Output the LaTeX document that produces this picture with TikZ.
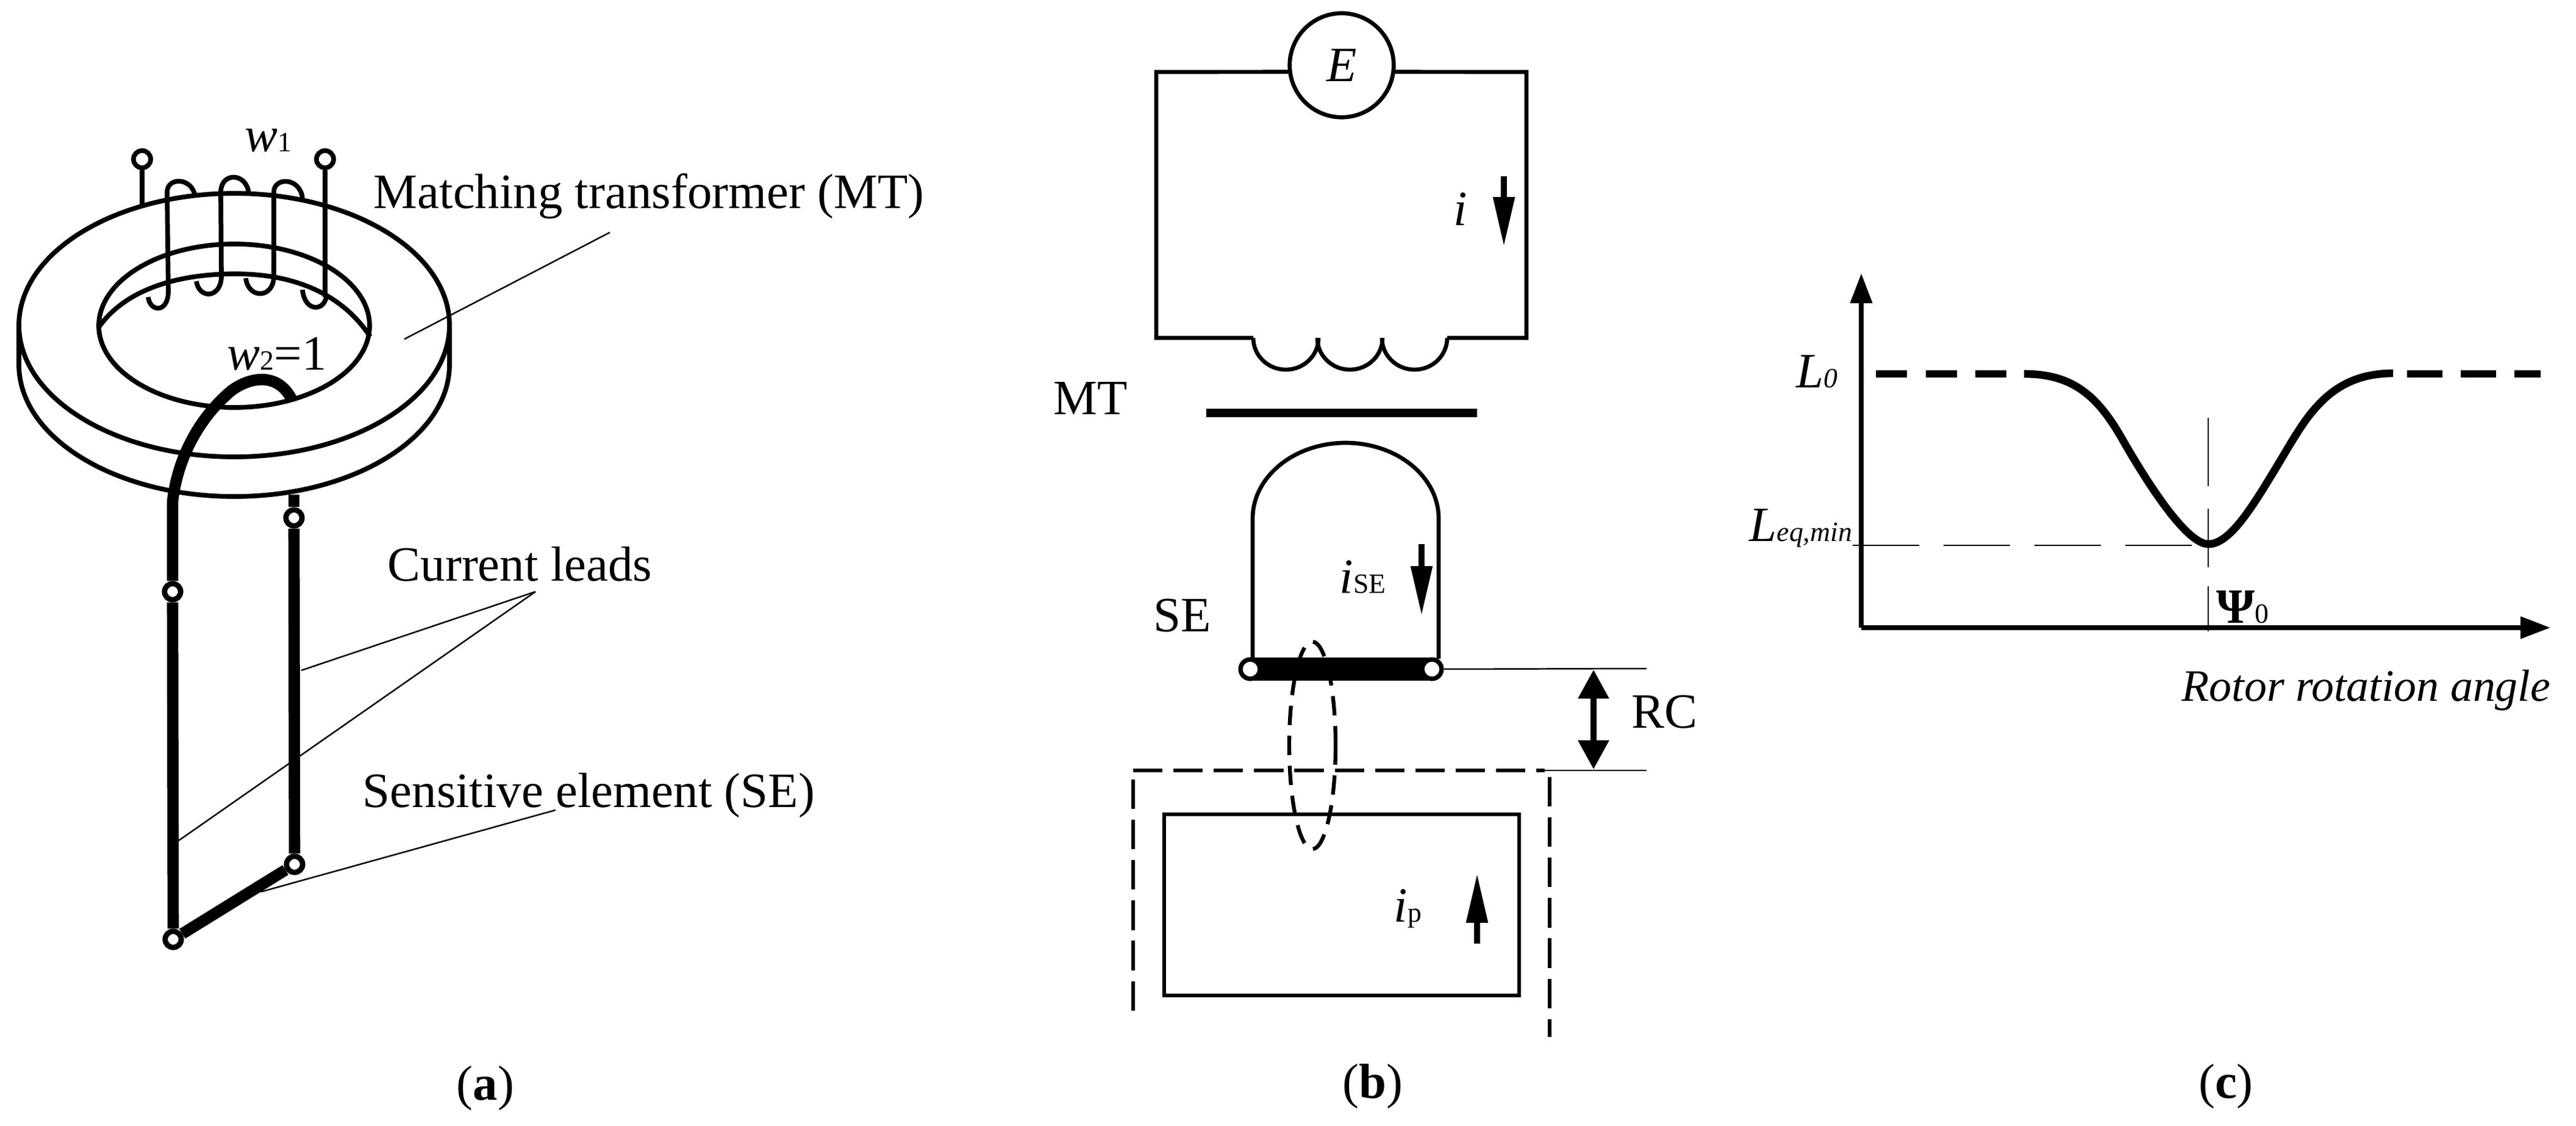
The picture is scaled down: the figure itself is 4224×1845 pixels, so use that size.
\documentclass[tikz,border=0pt]{standalone}
\usepackage{fontspec}
\setmainfont{Liberation Serif}
\usetikzlibrary{calc,arrows.meta}
\tikzset{
    lab/.style={anchor=base west, inner sep=0pt, font=\fontsize{23}{26}\selectfont},
    wire/.style={line width=2.2pt},
    loopwire/.style={line width=1.9pt},
    lead/.style={line width=5.3pt},
    leader/.style={line width=.7pt},
    hole/.style={circle, draw, fill=white, line width=2.5pt, minimum size=7.5pt, inner sep=0pt},
    pin/.style={circle, draw, fill=white, line width=2.2pt, minimum size=8pt, inner sep=0pt},
    joint/.style={circle, draw, fill=white, line width=2.1pt, minimum size=9pt, inner sep=0pt},
    shield/.style={line width=1.9pt, dash pattern=on 13.7pt off 5.1pt},
    current/.style={line width=2.6pt, -{Triangle[length=23pt,width=9.6pt]}},
    axis/.style={line width=2.1pt, -{Triangle[length=14pt,width=10pt]}},
    curve/.style={line width=3.6pt},
}
\newcommand{\low}[1]{{\fontsize{13}{14}\selectfont #1}}

\begin{document}
\begin{tikzpicture}[x=.01cm, y=-.01cm]
    \useasboundingbox (0,0) rectangle (4224,1845);

    % (a) transformer ring
    \draw [wire] (384,533) ellipse [x radius=353, y radius=216];
    \draw [wire] (384,534) ellipse [x radius=222, y radius=134];
    \draw [wire] (31,533) -- (31,598) arc [start angle=180, end angle=0, x radius=353, y radius=216] -- (737,533);
    \draw [wire] (163,535) .. controls (210,470) and (300,449) .. (386,449) .. controls (480,449) and (560,480) .. (607,552);

    % (a) primary winding
    \node [pin] (T1) at (233,261) {};
    \node [pin] (T2) at (533,261) {};
    \draw [wire] (T1) -- (233,336);
    \draw [wire] (T2) -- (533,487);
    \draw [wire] (243,487) .. controls (245,510) and (274,515) .. (276,480) -- (274,315) .. controls (274,290) and (315,290) .. (320,322);
    \draw [wire] (322,461) .. controls (326,490) and (361,490) .. (363,455) -- (362,315) .. controls (362,282) and (404,282) .. (408,317);
    \draw [wire] (403,456) .. controls (407,490) and (447,490) .. (449,455) -- (449,315) .. controls (449,290) and (492,290) .. (496,325);
    \draw [wire] (496,475) .. controls (499,510) and (530,512) .. (535,487);

    % (a) current leads
    \node [hole] (A) at (283,970) {};
    \node [hole] (B) at (482,849) {};
    \node [hole] (C) at (284,1540) {};
    \node [hole] (D) at (483,1417) {};
    \coordinate (Btop) at (482,811);
    \draw [lead] (A) -- (283,822) .. controls (290,760) and (320,690) .. (380,640) .. controls (410,618) and (455,610) .. (478,654);
    \draw [lead] (Btop) -- (B);
    \draw [lead] (B) -- (D);
    \draw [lead] (A) -- (C);
    \draw [lead] (C) -- (D);

    % (a) labels
    \node [lab] (w1) at (401,248) {\textit{w}\low{1}};
    \node [lab] (w2) at (372,606) {\textit{w}\low{2}=1};
    \node [lab] (MT) at (612,341) {Matching transformer (MT)};
    \node [lab] (CL) at (635,952) {Current leads};
    \node [lab] (SE) at (594,1323) {Sensitive element (SE)};
    \node [lab, anchor=base] (capa) at (796,1803) {(\textbf{a})};

    \coordinate (MTend) at (1000,381);
    \coordinate (CLend) at (878,970);
    \coordinate (SEend) at (911,1328);
    \draw [leader] (MTend) -- (663,556);
    \draw [leader] (CLend) -- (494,1099);
    \draw [leader] (CLend) -- (293,1378);
    \draw [leader] (SEend) -- (428,1462);

    % (b) primary circuit
    \node [circle, draw, loopwire, minimum size=48.5pt, inner sep=0pt, font=\fontsize{23}{26}\selectfont\itshape] (E) at (2200,107) {E};
    \coordinate (TL) at (1896,118);
    \coordinate (TR) at (2503,118);
    \coordinate (BL) at (1896,554);
    \coordinate (BR) at (2503,554);
    \draw [loopwire] (E.187.1) -- (TL) -- (BL) -- (2055,554);
    \draw [loopwire] (E.-7.1) -- (TR) -- (BR) -- (2373,554);
    \foreach \n in {2055, 2160, 2266}
        {
            \draw [loopwire] (\n,554) arc [start angle=180, end angle=0, x radius=53.5, y radius=52];
        }
    \draw [line width=3.8pt] (1978,677) -- (2422,677);
    \node [lab] (Emt) at (1727,679) {MT};
    \node [lab, font=\fontsize{23}{26}\selectfont\itshape] (i) at (2383,369) {i};
    \draw [current] (2466,289) -- (2466,404);

    % (b) secondary loop
    \draw [line width=1.8pt, dash pattern=on 9pt off 5pt] (2152,1222) ellipse [x radius=38, y radius=170];
    \coordinate (Pc) at (2050,1097);
    \coordinate (Qc) at (2348,1097);
    \draw [line width=10.8pt] (Pc) -- (Qc);
    \draw [loopwire] (2054,1080) -- (2054,850) arc [start angle=180, end angle=360, x radius=152.5, y radius=124] -- (2359,1080);
    \node [joint] (P) at (Pc) {};
    \node [joint] (Q) at (Qc) {};
    \node [lab] (Elab) at (1891,1035) {SE};
    \node [lab] (iSE) at (2196,972) {\textit{i}\low{SE}};
    \draw [current] (2331,892) -- (2331,1009);

    % (b) gap and rotor
    \coordinate (Sa) at (1858,1263);
    \coordinate (Sb) at (2533,1263);
    \draw [leader] (Q) -- (2700,1096);
    \draw [leader] (Sb) -- (2700,1263);
    \draw [line width=2.6pt, {Triangle[length=13.5pt,width=14pt]}-{Triangle[length=13.5pt,width=14pt]}] (2613,1098) -- (2613,1261);
    \node [lab] (RC) at (2675,1193) {RC};
    \draw [shield] (Sa) -- (Sb);
    \draw [shield] (1858,1278) -- (1858,1670);
    \draw [shield] (2541,1274) -- (2541,1700);
    \draw [line width=1.5pt] (1909,1335) rectangle (2491,1632);
    \node [lab] (ip) at (2285,1511) {\textit{i}\low{p}};
    \draw [current] (2422,1547) -- (2422,1432);
    \node [lab, anchor=base] (capb) at (2251,1800) {(\textbf{b})};

    % (c) axes
    \coordinate (O) at (3052,1029);
    \draw [axis] (O) -- (3052,448);
    \draw [axis] (O) -- (4182,1029);

    % (c) inductance curve
    \draw [curve, dash pattern=on 14.5pt off 8.7pt] (3076,613) -- (3300,613);
    \draw [curve] (3319,613) .. controls (3400,613) and (3440,650) .. (3480,720) .. controls (3520,790) and (3585,892) .. (3621,892) .. controls (3660,892) and (3700,820) .. (3753,732) .. controls (3790,670) and (3830,612) .. (3924,612);
    \draw [curve, dash pattern=on 16.5pt off 8.5pt] (3947,613) -- (4166,613);

    \draw [leader, dash pattern=on 31pt off 11.4pt] (3038,894) -- (3621,894);
    \draw [leader, dash pattern=on 31.9pt off 10.5pt on 27.3pt off 8.8pt on 21pt off 100pt] (3621,685) -- (3621,1035);

    \node [lab] (L0) at (2945,635) {\textit{L}\low{\textit{0}}};
    \node [lab] (Leq) at (2868,887) {\textit{L}\low{\textit{eq,min}}};
    \node [lab] (Psi) at (3634,1021) {\textbf{Ψ}\low{0}};
    \node [lab, font=\fontsize{21}{24}\selectfont\itshape] (rot) at (3577,1149) {Rotor rotation angle};
    \node [lab, anchor=base] (capc) at (3650,1800) {(\textbf{c})};
\end{tikzpicture}
\end{document}
